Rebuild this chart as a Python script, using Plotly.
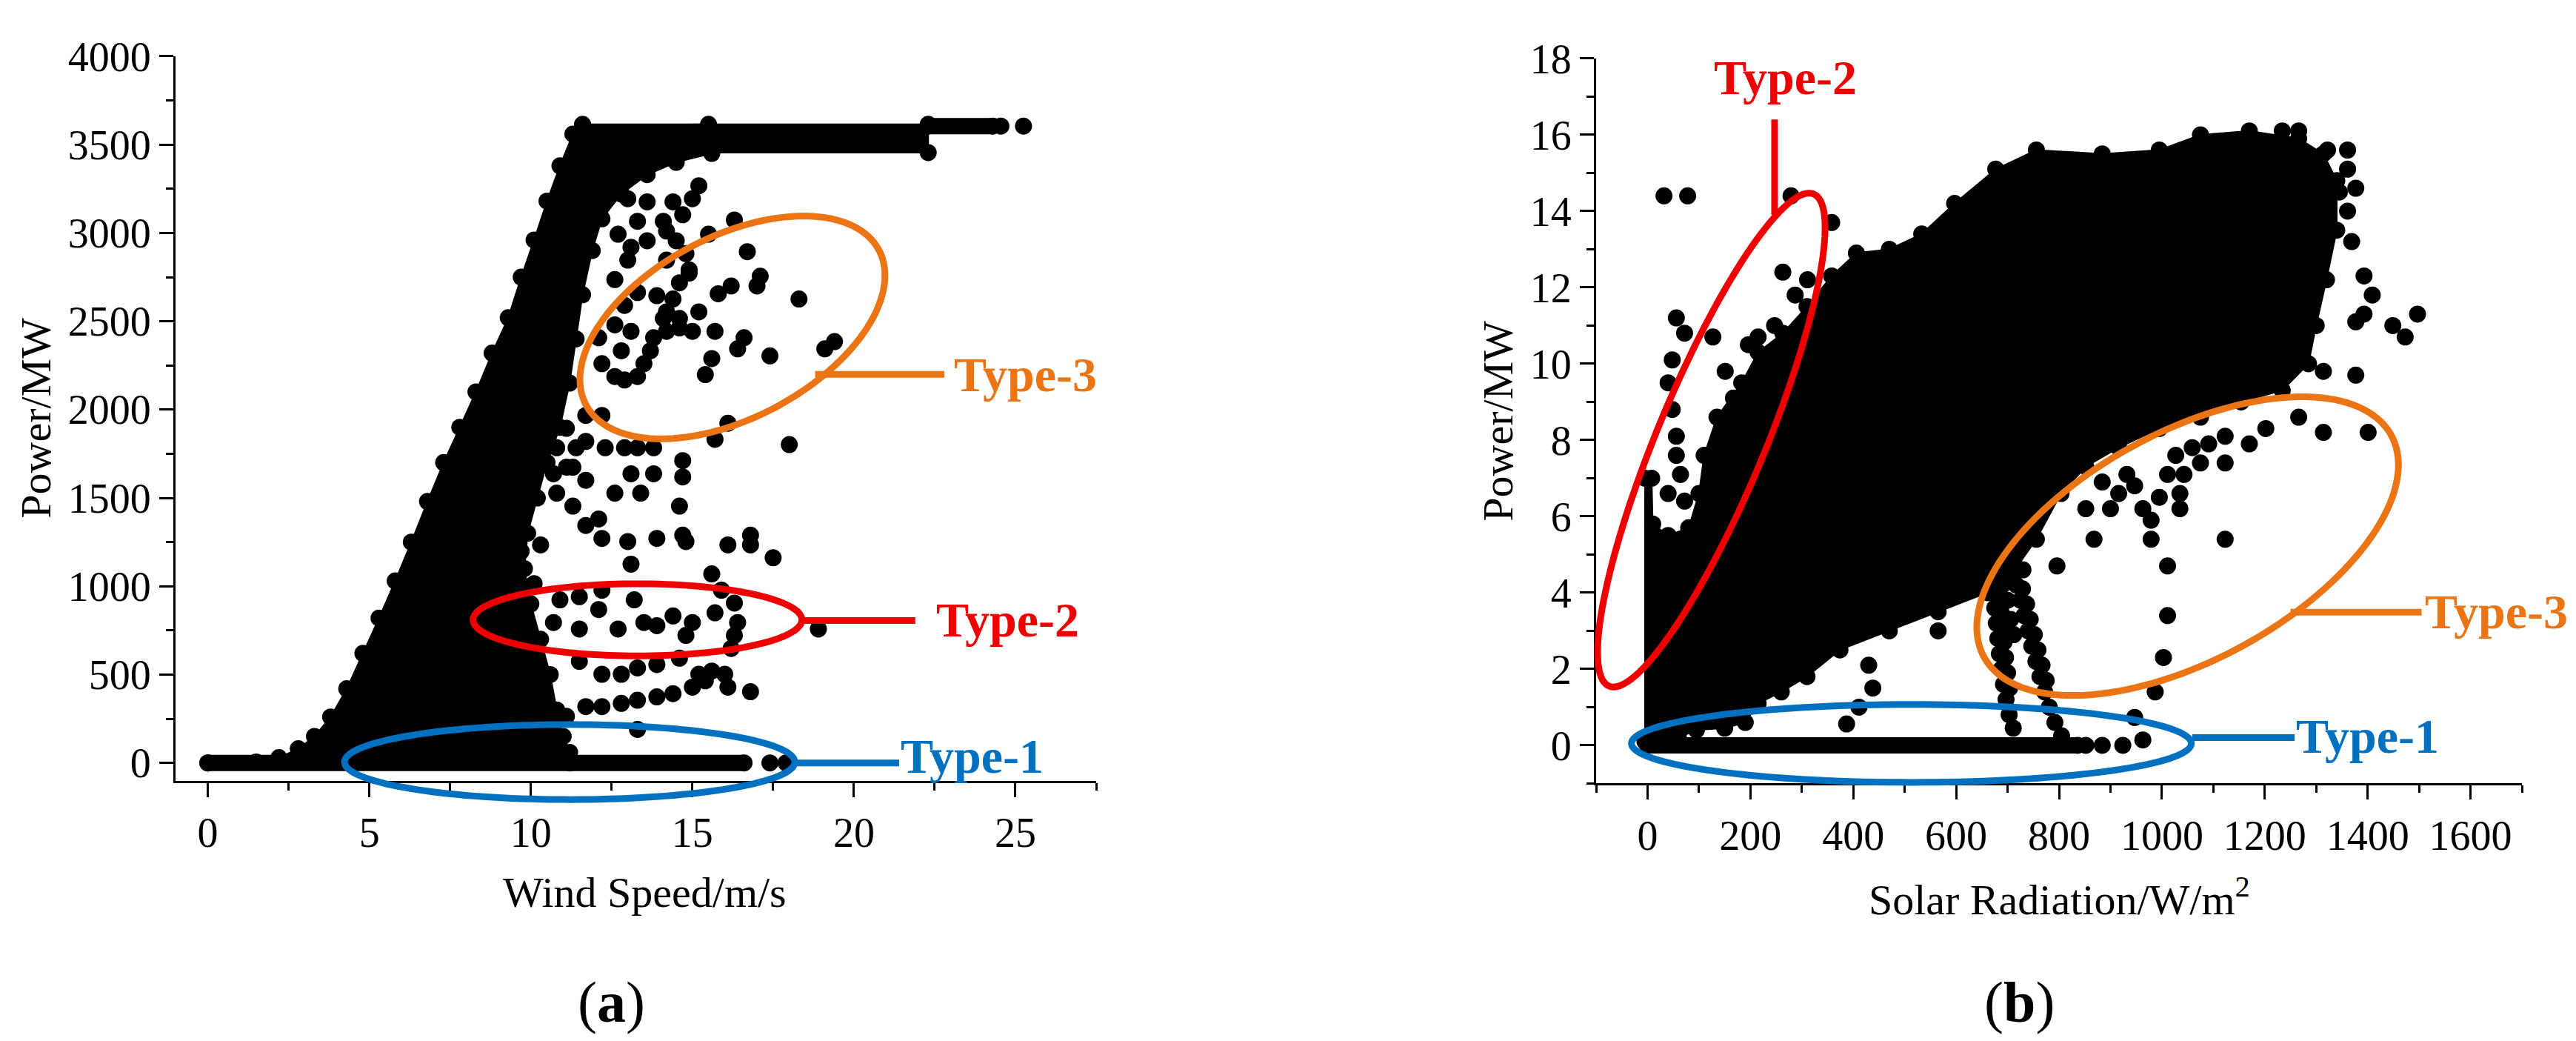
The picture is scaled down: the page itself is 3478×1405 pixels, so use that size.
import numpy as np
import plotly.graph_objects as go

W, H = 3478, 1405

# ---- (a) wind speed vs power ----
# dense band outline (wind speed m/s, power MW)
wind_band_x = [0, 1.5, 2.2, 2.8, 3.3, 3.8, 4.3, 4.8, 5.3, 5.8, 6.3, 6.8, 7.3, 7.8, 8.3, 8.8,
               9.3, 9.7, 10.1, 10.5, 10.9, 11.3, 11.6, 15.5, 15.6, 14.5, 13.6, 12.8, 12.2,
               11.9, 11.6, 11.4, 11.2, 10.9, 10.5, 10.2, 9.9, 9.8, 10.0, 10.3, 10.6, 10.8,
               11.0, 11.2, 11.2]
wind_band_p = [0, 5, 30, 80, 150, 260, 420, 620, 820, 1030, 1250, 1480, 1700, 1900, 2100, 2320,
               2520, 2750, 2960, 3180, 3380, 3560, 3610, 3615, 3450, 3400, 3330, 3220, 3080,
               2900, 2650, 2400, 2150, 1900, 1700, 1500, 1300, 1100, 900, 700, 500, 300,
               150, 60, 0]
# rated-power plateau
wind_plat_x = [11.6, 22.3, 22.3, 11.6]
wind_plat_p = [3455, 3455, 3615, 3615]
wind_top_x = [22.3, 24.3]
wind_top_p = [3605, 3605]
wind_zero_x = [0, 16.6]
wind_zero_p = [0, 0]
# isolated points
wind_pts_x = [18.3, 16.7, 17.1, 17.0, 16.6, 16.4, 17.4, 15.6, 15.4, 15.7, 15.2, 15.8, 16.2, 19.1,
              19.4, 16.3, 15.5, 14.6, 14.9, 14.2, 18.0, 16.1, 15.7, 14.6, 13.8, 12.9, 13.5, 12.9,
              13.0, 13.6, 14.1, 14.4, 15.2, 15.0, 14.7, 13.3, 12.7, 13.1, 13.6, 14.2, 14.5, 14.8,
              14.2, 13.0, 12.6, 13.3, 13.9, 14.4, 14.9,
              12.1, 12.6, 13.1, 12.8, 12.2, 12.6, 13.3, 13.7, 14.2, 14.1, 14.6, 15.0,
              11.7, 12.2, 11.7, 12.3, 12.9, 11.1, 11.4, 11.1, 10.8,
              14.7, 14.7, 14.6, 14.7, 14.8, 13.9, 13.0, 13.1, 12.6, 13.4, 13.8, 13.1, 13.3, 13.8,
              16.1, 16.8, 16.8, 17.5, 15.6, 15.9, 16.3, 15.7, 16.4, 16.3, 16.2, 16.0, 16.1, 16.8, 18.9,
              15.0, 14.8, 14.4, 13.9, 13.5, 13.2, 12.2, 12.1, 11.5, 10.9, 10.7, 11.5, 12.7,
              11.5, 12.2, 12.8, 13.3, 13.9, 14.6, 15.2, 15.4, 15.6, 15.0, 14.4, 13.9, 13.3, 12.8,
              12.2, 11.7, 13.3, 10.5, 11.1,
              11.7, 11.3, 10.8, 10.7, 11.3, 11.7, 12.1, 12.2, 10.3, 9.7, 9.3, 9.7, 10.1, 9.3, 8.9, 8.5,
              17.4, 17.9, 24.55, 25.25]
wind_pts_p = [2626, 2894, 2755, 2700, 2407, 2344, 2304, 2289, 2198, 2443, 2553, 2656, 2700, 2344,
              2385, 3073, 2993, 2718, 2791, 2553, 1802, 1923, 1832, 2462, 2407, 2590, 2260, 2168,
              3194, 3176, 3066, 3176, 3267, 3194, 3103, 3066, 2993, 2919, 2956, 3011, 2956, 2883,
              2846, 2846, 2736, 2663, 2645, 2626, 2773,
              2407, 2480, 2443, 2333, 2260, 2187, 2187, 2333, 2443, 2516, 2516, 2443,
              1967, 1967, 1820, 1784, 1784, 1894, 1784, 1674, 1784,
              1711, 1619, 1454, 1289, 1253, 1271, 1253, 1125, 1527, 1527, 1637, 1637, 1784, 1784,
              1234, 1289, 1234, 1161, 1070, 978, 905, 850, 795, 722, 648, 502, 429, 403, 758,
              795, 722, 832, 777, 795, 923, 978, 868, 941, 923, 795, 758, 758,
              575, 502, 502, 538, 557, 593, 502, 465, 520, 429, 392, 374, 355, 337,
              319, 319, 190, 337, 264,
              1344, 1454, 1527, 1637, 1674, 1600, 1381, 1271, 1234, 1344, 1381, 1198, 1015, 1125, 1015, 923,
              0, 0, 3605, 3605]

# ---- (b) solar radiation vs power ----
solar_blob_x = [-5, -5, 8, 10, 40, 80, 100, 110, 135, 183, 215, 263, 310, 358, 406, 470, 533,
                597, 677, 756, 884, 995, 1075, 1170, 1266, 1314, 1340, 1340, 1320, 1300, 1285,
                1234, 1154, 1075, 995, 916, 852, 804, 756, 709, 661, 565, 470, 374, 310, 260,
                215, 190, 150, 95, 60]
solar_blob_p = [0.1, 7.0, 7.0, 5.8, 5.5, 5.7, 6.6, 7.6, 8.6, 9.5, 10.3, 10.8, 11.5, 12.3, 12.9,
                13.0, 13.4, 14.2, 15.1, 15.6, 15.5, 15.6, 16.0, 16.1, 15.9, 15.5, 14.8, 13.5,
                12.2, 11.0, 10.0, 9.3, 9.0, 8.6, 8.3, 7.8, 7.3, 6.6, 5.4, 4.5, 4.0, 3.5, 3.0,
                2.5, 1.8, 1.4, 1.1, 0.6, 0.45, 0.4, 0.2]
solar_zero_x = [0, 836]
solar_zero_p = [0, 0]
solar_pts_x = [1266, 1314, 1401, 1123, 1011, 1011, 1003, 987, 947, 868, 796, 979, 979, 963, 995,
               1035, 1035, 1043, 1075, 1123, 1170, 1202, 916, 900, 852, 884, 947, 1091, 1123,
               1059, 1027, 1011, 932,
               1314, 1377, 1377, 1393, 1409, 1449, 1473, 1497, 1393, 1369, 1361, 1361, 1361,
               1322, 1298, 1282, 1345, 1377, 1266, 1234,
               32, 78, 279, 358, 263, 287, 311, 56, 72, 127, 48, 40, 48, 56, 56, 64, 40, 72,
               167, 151, 215, 247, 196,
               430, 438, 411, 387, 565,
               669, 672, 675, 678, 681, 684, 688, 692, 697, 703, 711,
               681, 684, 687, 690, 693, 696, 700, 704,
               717, 725, 732, 740, 747, 755, 763, 772, 781, 792, 805,
               729, 737, 744, 752, 759, 767, 775,
               690, 700, 706, 712, 695, 730,
               852, 884, 924, 963]
solar_pts_p = [8.6, 8.2, 8.2, 5.4, 4.7, 3.4, 2.3, 1.4, 0.73, 5.4, 4.7, 5.4, 5.9, 6.2, 6.5,
               6.6, 6.2, 7.1, 7.4, 7.4, 7.9, 8.3, 6.6, 6.2, 6.2, 6.9, 6.8, 7.9, 8.1,
               7.8, 7.6, 7.1, 7.1,
               9.8, 9.7, 11.1, 11.3, 11.8, 11.0, 10.7, 11.3, 12.3, 13.2, 14.0, 15.1, 15.6,
               15.6, 14.2, 13.7, 14.5, 14.6, 16.1, 16.1,
               14.4, 14.4, 14.4, 13.7, 12.4, 11.8, 12.2, 11.2, 10.8, 10.7, 10.1, 9.5, 8.8, 8.1,
               7.6, 7.1, 6.6, 6.4, 9.1, 9.8, 10.7, 11.0, 10.5,
               2.1, 1.5, 1.0, 0.56, 3.0,
               4.4, 4.0, 3.6, 3.2, 2.8, 2.4, 2.0, 1.6, 1.2, 0.8, 0.45,
               4.3, 3.9, 3.5, 3.1, 2.7, 2.3, 1.9, 1.5,
               4.2, 3.8, 3.4, 3.0, 2.6, 2.2, 1.8, 1.4, 1.0, 0.6, 0.25,
               4.1, 3.7, 3.3, 2.9, 2.5, 2.1, 1.7,
               4.2, 3.8, 3.3, 2.9, 3.0, 4.6,
               0, 0, 0, 0.14]

# axes geometry (paper fractions) and ranges
LX = [229 / W, 1472 / W]
LY = [(H - 1043) / H, (H - 39) / H]
RX = [2147 / W, 3397 / W]
RY = [(H - 1047) / H, (H - 42) / H]
L_XR, L_YR = [-1, 27.5], [-100, 4000]
R_XR, R_YR = [-100, 1700], [-1, 18]

BLUE, RED, ORANGE = '#0070C0', '#EE0000', '#EB7514'
FONT = 'Liberation Serif'
DOT = 23


def to_px(x, y, dx, dy, xr, yr):
    px = dx[0] * W + (x - xr[0]) / (xr[1] - xr[0]) * (dx[1] - dx[0]) * W
    py = dy[0] * H + (y - yr[0]) / (yr[1] - yr[0]) * (dy[1] - dy[0]) * H
    return px, py


def ellipse(cx, cy, a, b, ang, color, dx, dy, xr, yr):
    # a, b in pixels, ang in degrees; drawn in paper coords so it is not clipped
    x0, y0 = to_px(cx, cy, dx, dy, xr, yr)
    th = np.radians(ang)
    t = np.linspace(0, 2 * np.pi, 145)
    px = x0 + a * np.cos(t) * np.cos(th) - b * np.sin(t) * np.sin(th)
    py = y0 + a * np.cos(t) * np.sin(th) + b * np.sin(t) * np.cos(th)
    path = 'M ' + ' L '.join(f'{u / W:.5f},{v / H:.5f}' for u, v in zip(px, py)) + ' Z'
    return dict(type='path', xref='paper', yref='paper', path=path,
                line=dict(color=color, width=9))


def blob(x, y, xa, ya):
    return go.Scatter(x=x, y=y, xaxis=xa, yaxis=ya, mode='lines+markers', fill='toself',
                      fillcolor='black', line=dict(color='black', width=2),
                      marker=dict(size=DOT, color='black'), hoverinfo='skip')


def band(x, y, xa, ya):
    return go.Scatter(x=x, y=y, xaxis=xa, yaxis=ya, mode='lines+markers',
                      line=dict(color='black', width=DOT - 1),
                      marker=dict(size=DOT, color='black'), hoverinfo='skip')


def dots(x, y, xa, ya):
    return go.Scatter(x=x, y=y, xaxis=xa, yaxis=ya, mode='markers',
                      marker=dict(size=DOT, color='black'), hoverinfo='skip')


fig = go.Figure()
fig.add_trace(blob(wind_band_x, wind_band_p, 'x', 'y'))
fig.add_trace(blob(wind_plat_x, wind_plat_p, 'x', 'y'))
fig.add_trace(band(wind_top_x, wind_top_p, 'x', 'y'))
fig.add_trace(band(wind_zero_x, wind_zero_p, 'x', 'y'))
fig.add_trace(dots(wind_pts_x, wind_pts_p, 'x', 'y'))

fig.add_trace(blob(solar_blob_x, solar_blob_p, 'x2', 'y2'))
fig.add_trace(band(solar_zero_x, solar_zero_p, 'x2', 'y2'))
fig.add_trace(dots(solar_pts_x, solar_pts_p, 'x2', 'y2'))

axis_common = dict(showline=True, linecolor='black', linewidth=3, mirror=False,
                   showgrid=False, zeroline=False, ticks='outside', ticklen=19,
                   tickwidth=3, tickcolor='black',
                   tickfont=dict(family=FONT, size=56, color='black'))

fig.update_layout(
    width=W, height=H, margin=dict(l=0, r=0, t=0, b=0),
    paper_bgcolor='white', plot_bgcolor='white', showlegend=False,
    xaxis=dict(domain=LX, range=L_XR, anchor='y', tick0=0, dtick=5,
               minor=dict(tick0=0, dtick=2.5, ticks='outside', ticklen=10,
                          tickwidth=3, tickcolor='black'), **axis_common),
    yaxis=dict(domain=LY, range=L_YR, anchor='x', tick0=0, dtick=500,
               minor=dict(tick0=0, dtick=250, ticks='outside', ticklen=10,
                          tickwidth=3, tickcolor='black'), **axis_common),
    xaxis2=dict(domain=RX, range=R_XR, anchor='y2', tick0=0, dtick=200,
                minor=dict(tick0=0, dtick=100, ticks='outside', ticklen=10,
                           tickwidth=3, tickcolor='black'), **axis_common),
    yaxis2=dict(domain=RY, range=R_YR, anchor='x2', tick0=0, dtick=2,
                minor=dict(tick0=0, dtick=1, ticks='outside', ticklen=10,
                           tickwidth=3, tickcolor='black'), **axis_common),
)

shapes = [
    ellipse(11.2, 5, 304, 52, 0, BLUE, LX, LY, L_XR, L_YR),
    ellipse(13.3, 810, 222, 50, 0, RED, LX, LY, L_XR, L_YR),
    ellipse(16.24, 2465, 225, 125, 29, ORANGE, LX, LY, L_XR, L_YR),
    ellipse(513, 0.05, 378, 54, 0, BLUE, RX, RY, R_XR, R_YR),
    ellipse(124, 8.0, 368, 73, 68, RED, RX, RY, R_XR, R_YR),
    ellipse(1050, 5.22, 315, 157, 29.6, ORANGE, RX, RY, R_XR, R_YR),
    dict(type='line', xref='x', yref='y', x0=18.2, x1=21.4, y0=0, y1=0,
         line=dict(color=BLUE, width=9)),
    dict(type='line', xref='x', yref='y', x0=18.4, x1=21.9, y0=806, y1=806,
         line=dict(color=RED, width=9)),
    dict(type='line', xref='x', yref='y', x0=18.8, x1=22.8, y0=2200, y1=2200,
         line=dict(color=ORANGE, width=9)),
    dict(type='line', xref='x2', yref='y2', x0=1059, x1=1258, y0=0.2, y1=0.2,
         line=dict(color=BLUE, width=9)),
    dict(type='line', xref='x2', yref='y2', x0=247, x1=247, y0=16.4, y1=13.9,
         line=dict(color=RED, width=9)),
    dict(type='line', xref='x2', yref='y2', x0=1250, x1=1505, y0=3.49, y1=3.49,
         line=dict(color=ORANGE, width=9)),
]
fig.update_layout(shapes=shapes)


def label(text, x, y, color, xref, yref, xanchor='left'):
    return dict(text=f'<b>{text}</b>', x=x, y=y, xref=xref, yref=yref, showarrow=False,
                xanchor=xanchor, yanchor='middle',
                font=dict(family=FONT, size=66, color=color))


def plain(text, x, y, size=58, angle=0):
    return dict(text=text, x=x, y=y, xref='paper', yref='paper', showarrow=False,
                xanchor='center', yanchor='middle', textangle=angle,
                font=dict(family=FONT, size=size, color='black'))


annotations = [
    label('Type-1', 21.4, 40, BLUE, 'x', 'y'),
    label('Type-2', 22.5, 810, RED, 'x', 'y'),
    label('Type-3', 23.05, 2200, ORANGE, 'x', 'y'),
    label('Type-1', 1258, 0.25, BLUE, 'x2', 'y2'),
    label('Type-2', 268, 17.5, RED, 'x2', 'y2', 'center'),
    label('Type-3', 1508, 3.5, ORANGE, 'x2', 'y2'),
    plain('Power/MW', 41 / W, (H - 541) / H, angle=-90),
    plain('Power/MW', 2015 / W, (H - 545) / H, angle=-90),
    plain('Wind Speed/m/s', 862 / W, (H - 1198) / H),
    plain('Solar Radiation/W/m<sup>2</sup>', 2772 / W, (H - 1204) / H),
    plain('(<b>a</b>)', 817 / W, (H - 1350) / H, size=78),
    plain('(<b>b</b>)', 2718 / W, (H - 1350) / H, size=78),
]
fig.update_layout(annotations=annotations)

fig.write_html("out.html")
